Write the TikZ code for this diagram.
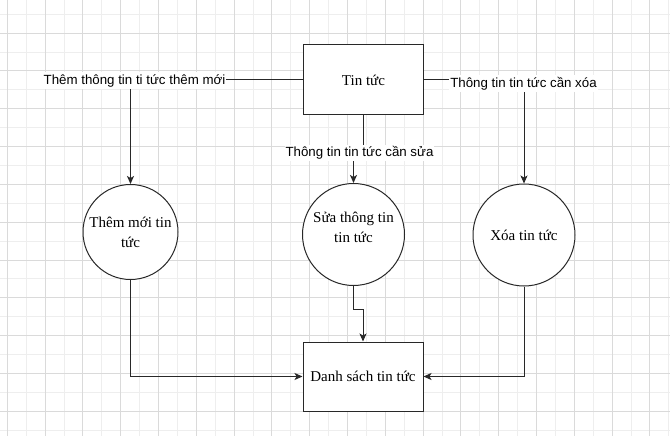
\documentclass[tikz,border=0pt]{standalone}
\usepackage{fontspec}
\setmainfont{Liberation Serif}
\newfontfamily\labelfont{Liberation Sans}
\usetikzlibrary{arrows.meta}
\definecolor{gridmajor}{RGB}{218,218,218}
\definecolor{gridminor}{RGB}{238,238,238}
\definecolor{linec}{RGB}{40,40,40}
\begin{document}
\begin{tikzpicture}[x=1pt,y=-1pt,
  proc/.style={draw=linec, line width=1pt, fill=white, minimum width=120pt, minimum height=70pt, inner sep=0pt, font=\fontsize{15}{20}\selectfont},
  bubble/.style={circle, draw=linec, line width=1pt, fill=white, inner sep=0pt, align=center, font=\fontsize{15}{20}\selectfont},
  bubbletext/.style={align=center, inner sep=0pt, font=\fontsize{15}{20}\selectfont},
  flow/.style={draw=linec, line width=1pt, -{Stealth[length=8pt,width=7pt,inset=2pt]}},
  flowlabel/.style={fill=white, inner xsep=1pt, inner ysep=2pt, font=\labelfont\fontsize{13.3}{15}\selectfont},
  minorgrid/.style={draw=gridminor, line width=1pt},
  majorgrid/.style={draw=gridmajor, line width=1pt}
]
\useasboundingbox (0,0) rectangle (670,436);
\fill[white] (0,0) rectangle (670,436);
% grid
\foreach \j in {0,...,17}{
  \draw[minorgrid] ({26.2+37.8*\j},0) -- ({26.2+37.8*\j},436);
}
\foreach \j in {0,...,11}{
  \draw[minorgrid] (0,{14.3+37.8*\j}) -- (670,{14.3+37.8*\j});
}
\foreach \j in {0,...,17}{
  \draw[majorgrid] ({7.3+37.8*\j},0) -- ({7.3+37.8*\j},436);
}
\foreach \j in {0,...,11}{
  \draw[majorgrid] (0,{33.2+37.8*\j}) -- (670,{33.2+37.8*\j});
}

% nodes
\node[proc] (tin) at (363.5,80) {Tin tức};
\node[bubble, minimum size=95pt] (them) at (130.5,232) {Thêm mới tin\\tức};
\node[bubble, minimum size=102pt,
      label={[bubbletext, yshift=7pt]center:Sửa thông tin\\tin tức}] (sua) at (353.5,234.5) {};
\node[bubble, minimum size=102pt] (xoa) at (524,235) {Xóa tin tức};
\node[proc, minimum height=69pt] (ds) at (363,376.5) {Danh sách tin tức};

\coordinate (midlevel) at (0,153);
\coordinate (lowlevel) at (0,309);

% connectors
\draw[flow] (tin.west) -- (them.north |- tin.west) -- (them.north);
\draw[flow] (tin.east) -- (xoa.north |- tin.east) -- (xoa.north);
\draw[flow] (tin.south) -- (tin.south |- midlevel) -- (sua.north |- midlevel) -- (sua.north);
\draw[flow] (them.south) -- (them.south |- ds.west) -- (ds.west);
\draw[flow] (xoa.south) -- (xoa.south |- ds.east) -- (ds.east);
\draw[flow] (sua.south) -- (sua.south |- lowlevel) -- (ds.north |- lowlevel) -- (ds.north);

% labels
\node[flowlabel] (l1) at (134.5,80.5) {Thêm thông tin ti tức thêm mới};
\node[flowlabel] (l2) at (523.5,83.5) {Thông tin tin tức cần xóa};
\node[flowlabel] (l3) at (359.5,153) {Thông tin tin tức cần sửa};
\end{tikzpicture}
\end{document}
